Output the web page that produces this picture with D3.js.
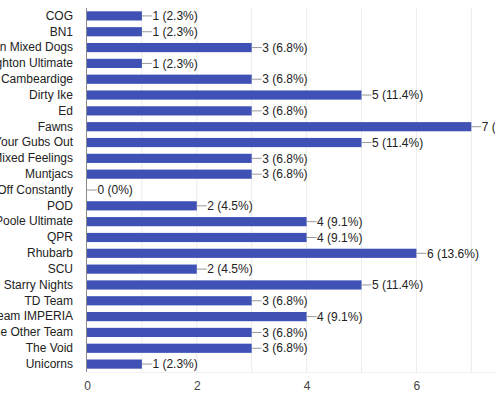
<!DOCTYPE html>
<html>
<head>
<meta charset="utf-8">
<script src="https://cdn.jsdelivr.net/npm/d3@7"></script>
<style>
  body { margin: 0; background: #fff; }
  svg { display: block; font-family: "Liberation Sans", Arial, sans-serif; }
</style>
</head>
<body>
<svg width="495" height="400"></svg>
<script>
// team names and how many responses each got
var teams = ["COG", "BN1", "Hitchin Mixed Dogs", "Brighton Ultimate", "Cambeardige",
  "Dirty Ike", "Ed", "Fawns", "Get Your Gubs Out", "Mixed Feelings", "Muntjacs",
  "Falling Off Constantly", "POD", "Poole Ultimate", "QPR", "Rhubarb", "SCU",
  "Starry Nights", "TD Team", "Team IMPERIA", "The Other Team", "The Void", "Unicorns"];
var counts = [1, 1, 3, 1, 3, 5, 3, 7, 5, 3, 3, 0, 2, 4, 4, 6, 2, 5, 3, 4, 3, 3, 1];
var xTicks = [0, 2, 4, 6];
var total = 44;

var svg = d3.select("svg"),
    margin = {top: 8, right: 0, bottom: 28, left: 87},
    height = +svg.attr("height") - margin.top - margin.bottom,
    g = svg.append("g").attr("transform", "translate(" + margin.left + "," + margin.top + ")");

var data = teams.map(function(t, i) { return {team: t, n: counts[i]}; });

// 1 unit is roughly 54.9px in the picture
var x = d3.scaleLinear().domain([0, 1]).range([0, 54.9]);

var y = d3.scaleBand()
    .domain(teams)
    .range([0, height])
    .paddingInner(0.42)
    .paddingOuter(0.21);

// faint vertical gridlines every unit
g.append("g")
  .selectAll("line")
  .data(d3.range(1, 8))
  .enter().append("line")
    .attr("x1", function(d) { return x(d); })
    .attr("x2", function(d) { return x(d); })
    .attr("y1", 0)
    .attr("y2", height)
    .attr("stroke", "#ececec");

g.append("line")
    .attr("x1", 0).attr("x2", 420)
    .attr("y1", height + 0.5).attr("y2", height + 0.5)
    .attr("stroke", "#f2f2f2");

g.append("g")
  .selectAll("rect")
  .data(data)
  .enter().append("rect")
    .attr("x", 0)
    .attr("y", function(d) { return y(d.team); })
    .attr("width", function(d) { return x(d.n); })
    .attr("height", y.bandwidth())
    .attr("fill", "#3f51b5");

// zero axis line
g.append("line")
    .attr("x1", -0.5).attr("x2", -0.5)
    .attr("y1", 0).attr("y2", height)
    .attr("stroke", "#8a8a8a");

// leader lines + value labels
var lab = g.append("g")
  .selectAll("g")
  .data(data)
  .enter().append("g")
    .attr("transform", function(d) { return "translate(" + x(d.n) + "," + (y(d.team) + y.bandwidth() / 2) + ")"; });

lab.append("line")
    .attr("x1", 0).attr("x2", 10)
    .attr("stroke", "#999");

lab.append("text")
    .attr("x", 10.5)
    .attr("dy", "0.35em")
    .attr("font-size", 12)
    .attr("fill", "#222")
    .text(function(d) {
      var p = d3.format(".1f")(d.n / total * 100).replace(/\.0$/, "");
      return d.n + " (" + p + "%)";
    });

// category labels
g.append("g")
    .attr("transform", "translate(-1,0)")
    .call(d3.axisLeft(y).tickSize(0).tickPadding(13))
    .call(function(s) { s.select(".domain").remove(); })
    .selectAll("text")
      .attr("font-size", 12)
      .attr("font-family", "Liberation Sans, Arial, sans-serif")
      .attr("fill", "#222");

// bottom tick labels
g.append("g")
    .attr("transform", "translate(0," + height + ")")
    .call(d3.axisBottom(x).tickValues(xTicks).tickSize(0).tickPadding(9).tickFormat(d3.format("d")))
    .call(function(s) { s.select(".domain").remove(); })
    .selectAll("text")
      .attr("font-size", 12)
      .attr("font-family", "Liberation Sans, Arial, sans-serif")
      .attr("fill", "#444");
</script>
</body>
</html>
